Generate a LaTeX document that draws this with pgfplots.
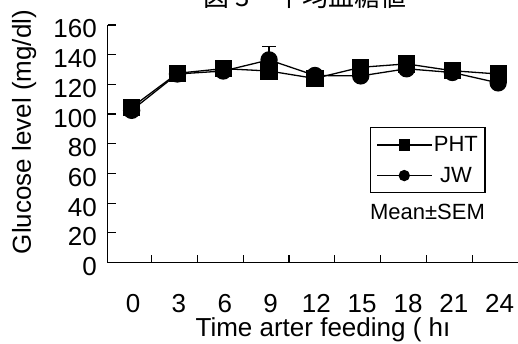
\documentclass[border=0pt]{standalone}
\usepackage{fontspec}
\setmainfont{Liberation Sans}
\newfontfamily\cjk{Noto Sans CJK JP}
\usepackage{pgfplots}
\pgfplotsset{compat=1.18}
\begin{document}
\begin{tikzpicture}[x=1pt,y=1pt]
\begin{axis}[
  at={(107.5pt,-262.5pt)}, anchor=south west,
  scale only axis, width=410.5pt, height=237.5pt,
  xmin=-1.58, xmax=25.3, ymin=0, ymax=160,
  axis lines=left, axis line style={-, line width=1.4pt},
  tick align=inside, major tick length=8pt, tick style={line width=1.2pt, black},
  xtick={1.3,4.3,7.3,10.3,13.3,16.3,19.3,22.3}, xticklabels={},
  extra x ticks={0,3,6,9,12,15,18,21,24},
  extra x tick labels={0,3,6,9,12,15,18,21,24},
  extra x tick style={major tick length=0pt, xticklabel style={anchor=north, inner sep=0pt, yshift=-32pt, xshift=1.5pt}},
  ytick={0,20,40,60,80,100,120,140,160},
  yticklabel style={anchor=east, inner sep=0pt, xshift=-10.5pt, yshift=-4pt},
  ticklabel style={font=\fontsize{26}{26}\selectfont},
  /pgf/number format/assume math mode=true,
  xlabel={Time arter feeding ( hı},
  ylabel={Glucose level (mg/dl)},
  every axis x label/.style={at={(axis description cs:0.525,-0.3115)}, anchor=base, inner sep=0pt, font=\fontsize{26}{26}\selectfont},
  every axis y label/.style={at={(axis description cs:-0.1864,0.5495)}, rotate=90, anchor=base, inner sep=0pt, font=\fontsize{26}{26}\selectfont},
  reverse legend,
  legend style={at={(0.6395,0.5705)}, anchor=north west, draw=black, line width=1.2pt,
    font=\fontsize{22}{22}\selectfont, inner xsep=6pt, inner ysep=8pt, row sep=12pt, column sep=0pt,
    nodes={inner sep=1pt}},
  legend image code/.code={\draw[mark repeat=2, mark phase=2, #1, mark size=5pt] plot coordinates {(0pt,0pt) (27pt,0pt) (55pt,0pt)};},
]
\addplot[black, line width=1.3pt, mark=*, mark size=8pt,
  error bars/.cd, y dir=both, y explicit,
  error bar style={line width=1.3pt, black},
  error mark options={rotate=90, mark size=7pt, line width=1.3pt, black}]
  coordinates {(0,102.5) +- (0,2) (3,127) +- (0,2) (6,129) +- (0,2) (9,136.5) +- (0,9)
               (12,126) +- (0,2) (15,125.7) +- (0,2) (18,130.5) +- (0,2) (21,128) +- (0,2) (24,121) +- (0,2)};
\addlegendentry{JW}
\addplot[black, line width=1.3pt, mark=square*, mark size=8pt,
  error bars/.cd, y dir=both, y explicit,
  error bar style={line width=1.3pt, black},
  error mark options={rotate=90, mark size=7pt, line width=1.3pt, black}]
  coordinates {(0,104.5) +- (0,2) (3,127.5) +- (0,2) (6,130.6) +- (0,2) (9,129) +- (0,2)
               (12,124) +- (0,2) (15,131.5) +- (0,2) (18,133.8) +- (0,2) (21,129.2) +- (0,2) (24,127) +- (0,2)};
\addlegendentry{PHT}
\node[font=\fontsize{22}{22}\selectfont, anchor=base] at (rel axis cs:0.7795,0.179) {Mean±SEM};
\end{axis}
\node[font=\cjk\fontsize{26}{26}\selectfont, anchor=base] at (305pt,-6pt) {図 3　平均血糖値};
\pgfresetboundingbox
\useasboundingbox (0pt,0pt) rectangle (518pt,-343pt);
\end{tikzpicture}
\end{document}
